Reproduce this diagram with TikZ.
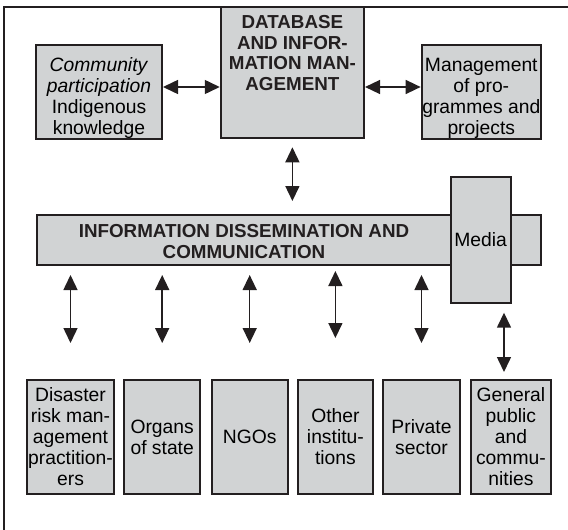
\documentclass[tikz,border=0pt]{standalone}
\usepackage{fontspec}
\setmainfont{Liberation Sans}
\usetikzlibrary{arrows.meta}
\definecolor{boxfill}{RGB}{209,211,212}
\definecolor{boxline}{RGB}{35,31,32}
\newcommand{\toppad}{\rule{0pt}{26pt}}
\tikzset{
  box/.style={draw=boxline, line width=2pt, fill=boxfill, align=center, inner sep=0pt,
    font=\fontsize{19.3}{21}\selectfont},
  hdr/.style={font=\bfseries\fontsize{18.8}{20.8}\selectfont, align=center, inner sep=0pt, text=boxline},
  link/.style={{Triangle[width=14pt,length=15pt]}-{Triangle[width=14pt,length=15pt]},
    line width=1.5pt, draw=boxline}
}
\begin{document}
\begin{tikzpicture}[x=1pt,y=-1pt]
  \useasboundingbox (0,0) rectangle (568,530);
  % frame
  \draw[line width=2pt, boxline] (4.3,530) -- (4.3,7.3) -- (568,7.3);
  % top row
  \node[box, minimum width=126pt, minimum height=92pt] (comm) at (99,92)
    {\toppad\textit{Community}\\\textit{participation}\\Indigenous\\knowledge};
  \node[box, minimum width=143.3pt, minimum height=131pt,
    label={[hdr, anchor=north, yshift=-8.7pt]north:{DATABASE\\AND INFOR-\\MATION MAN-\\AGEMENT}}]
    (db) at (292.4,72.8) {};
  \node[box, minimum width=119.3pt, minimum height=93pt] (mgmt) at (481.3,92)
    {\toppad Management\\of pro-\\grammes and\\projects};
  % middle bar
  \node[box, minimum width=504.3pt, minimum height=50pt,
    label={[hdr, xshift=-44.8pt, yshift=-1.5pt]center:{INFORMATION DISSEMINATION AND\\COMMUNICATION}}]
    (idc) at (288.8,240) {};
  \node[box, minimum width=59.8pt, minimum height=126.6pt] (media) at (480.6,240) {Media};
  % bottom row
  \node[box, minimum width=87pt, minimum height=114pt] (drm) at (70.5,437)
    {Disaster\\risk man-\\agement\\practition-\\ers};
  \node[box, minimum width=76.4pt, minimum height=114pt] (organs) at (162.2,437)
    {Organs\\of state};
  \node[box, minimum width=76pt, minimum height=114pt] (ngos) at (249.7,437) {NGOs};
  \node[box, minimum width=75.3pt, minimum height=114pt] (inst) at (335.4,437)
    {Other\\institu-\\tions};
  \node[box, minimum width=77pt, minimum height=114pt] (priv) at (421.5,437)
    {Private\\sector};
  \node[box, minimum width=80.3pt, minimum height=114pt] (pub) at (510.9,437)
    {General\\public\\and\\commu-\\nities};
  % connectors
  \draw[link] ([yshift=5pt]comm.east) -- ([yshift=5pt]comm.east -| db.west);
  \draw[link] ([yshift=5pt]mgmt.west -| db.east) -- ([yshift=5pt]mgmt.west);
  \draw[link, shorten <=8pt, shorten >=13pt] (db.south) -- (db.south |- idc.north);
  \foreach \n/\a/\b in {drm/9/36, organs/9/36, ngos/9/36, inst/5/41, priv/9/36}
    \draw[link, shorten <=\a pt, shorten >=\b pt] (\n.north |- idc.south) -- (\n.north);
  \draw[link, shorten <=8.4pt, shorten >=7pt] ([xshift=23.4pt]media.south)
    -- ([xshift=23.4pt]media.south |- pub.north);
\end{tikzpicture}
\end{document}
